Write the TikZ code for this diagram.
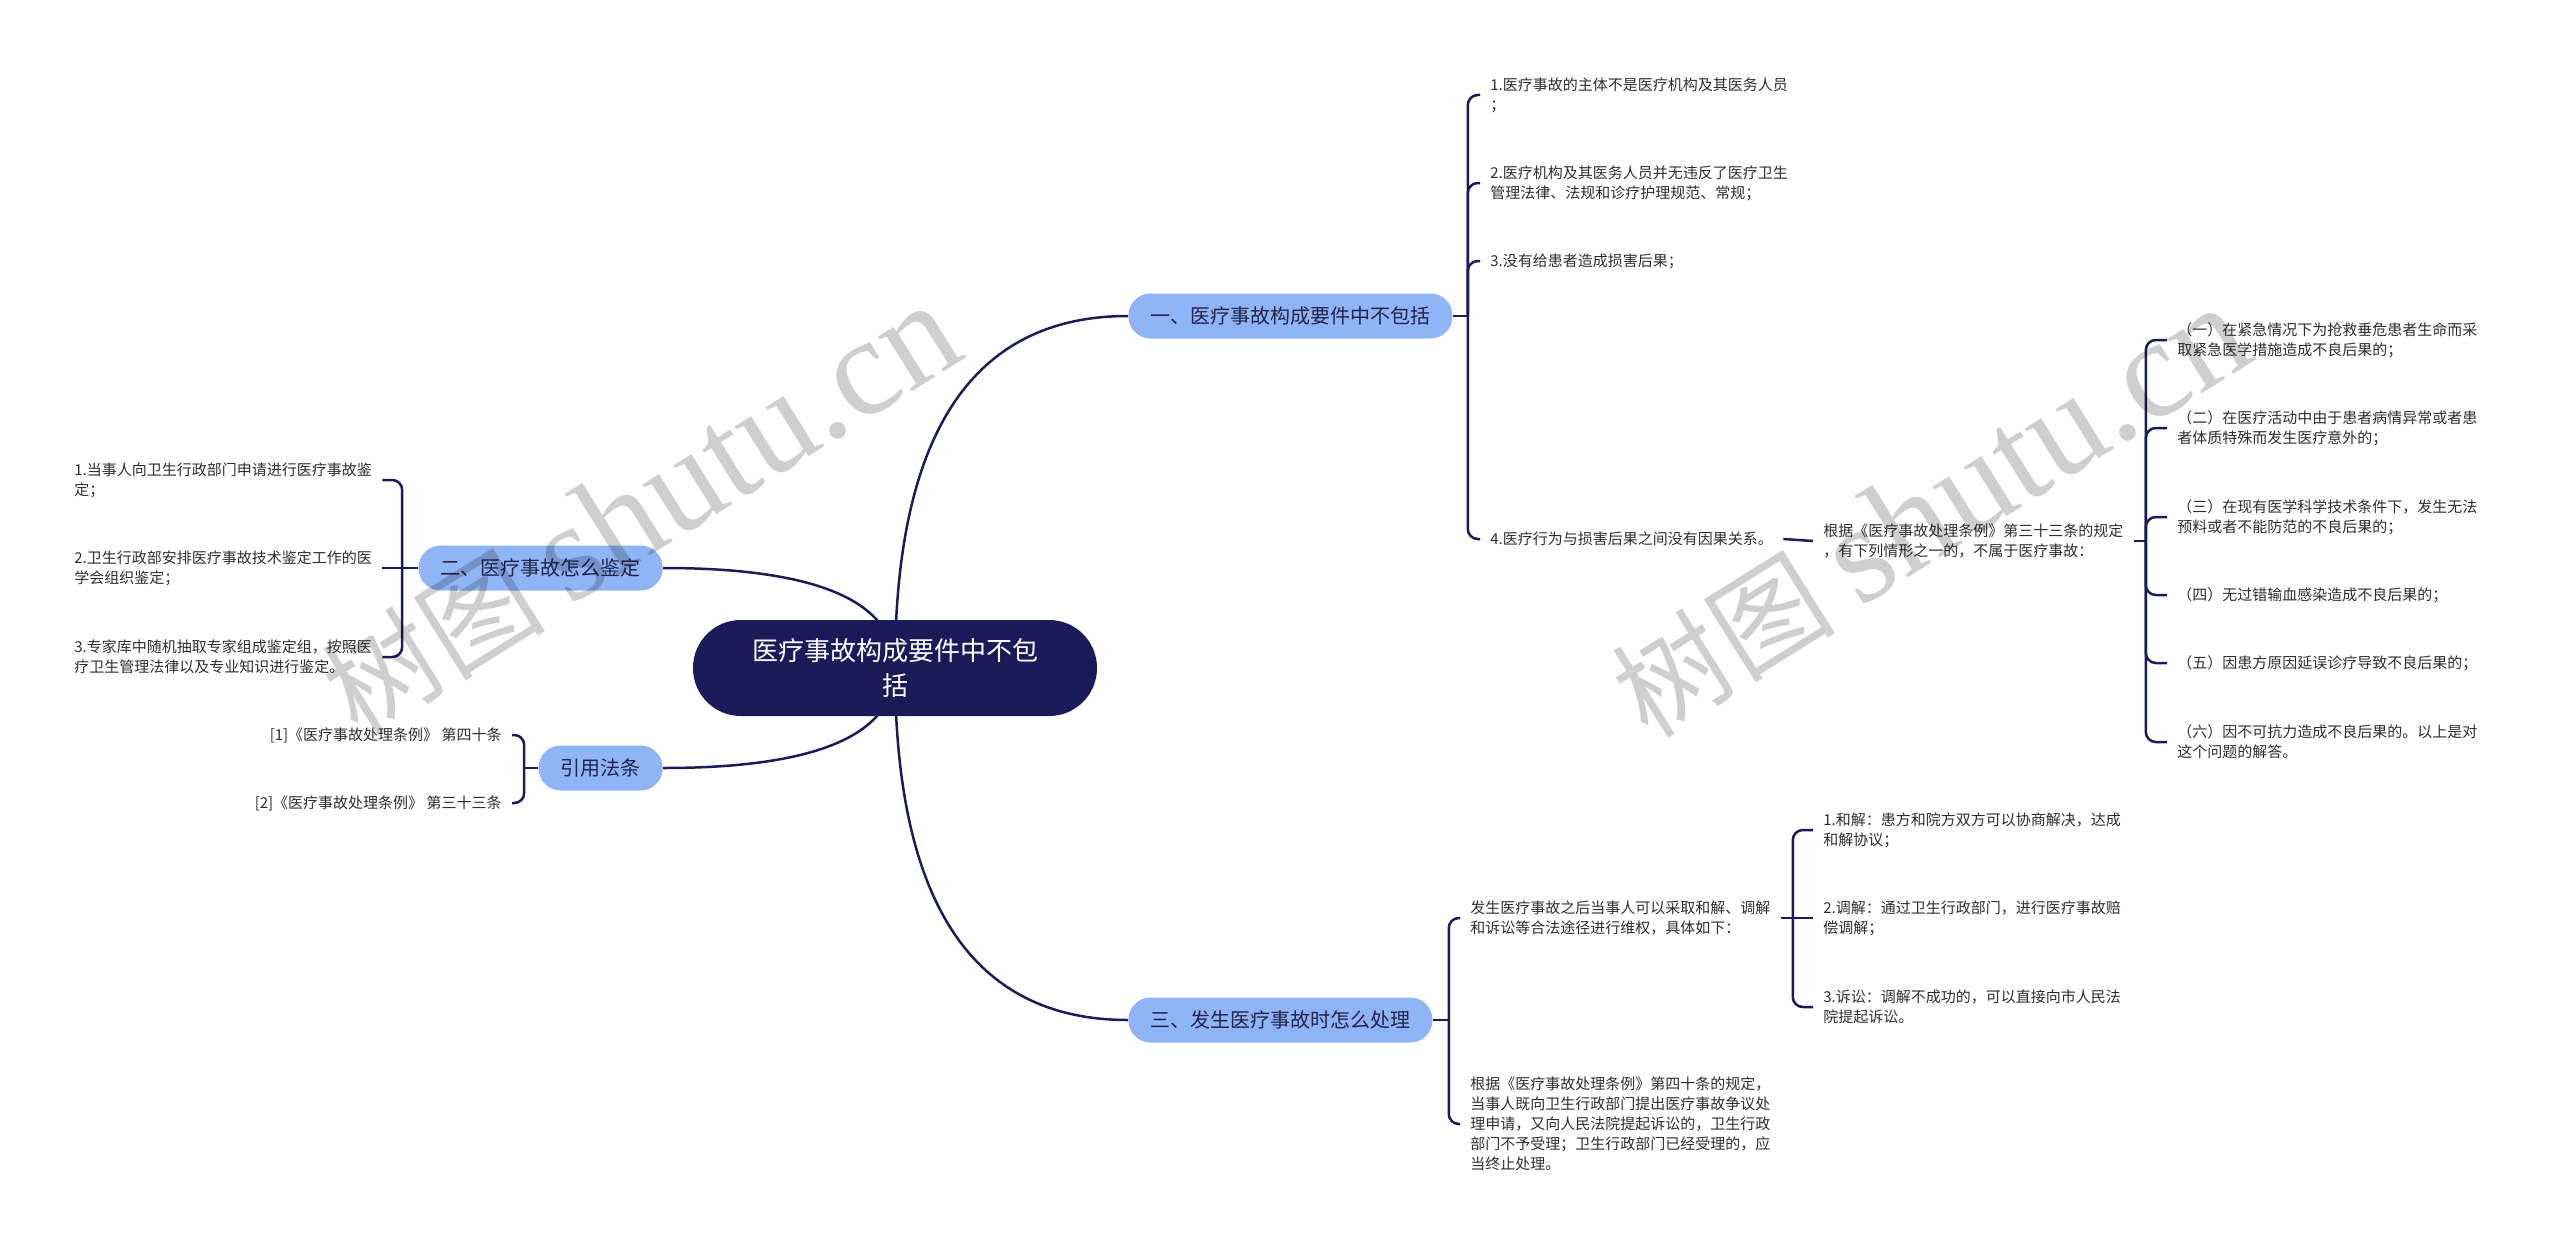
\documentclass[tikz,border=0pt]{standalone}
\usepackage{fontspec}
\setmainfont{Noto Sans CJK SC}
\newfontfamily\wmlatin{Liberation Serif}
\usetikzlibrary{calc}

\definecolor{navy}{RGB}{27,27,90}
\definecolor{pill}{RGB}{143,181,246}
\definecolor{pilltext}{RGB}{35,35,75}
\definecolor{leafgray}{RGB}{45,45,45}

\pgfdeclarelayer{background}
\pgfsetlayers{background,main}

\tikzset{
  rootbox/.style={fill=navy,text=white,rounded corners=23.9pt,inner sep=0pt,
    minimum width=202pt,minimum height=48pt,align=center,
    font=\fontsize{13pt}{17.5pt}\selectfont},
  topicbox/.style={fill=pill,text=pilltext,rounded corners=11pt,inner xsep=11pt,
    inner ysep=0pt,minimum height=22.5pt,font=\fontsize{10pt}{12pt}\selectfont},
  leafbox/.style={text=leafgray,align=left,inner xsep=5pt,inner ysep=2pt,
    font=\fontsize{7.5pt}{10pt}\selectfont},
  link/.style={draw=navy,line width=1.25pt},
  fork/.style={link,rounded corners=5pt},
  wmark/.style={text=black,text opacity=0.19,inner sep=0pt}
}

% quadratic curve from the centre of the root to a topic
\newcommand{\rootlink}[1]{%
  \draw[link] (root.center)
    .. controls ($(root.center)!0.667!(root.center|-#1)$)
    and ($(#1)!0.667!(root.center|-#1)$) .. (#1);}

\begin{document}
\begin{tikzpicture}[x=0.5pt,y=-0.5pt]
  \useasboundingbox (0,0) rectangle (2560,1247);

  % root and topics
  \node[rootbox] (root) at (895,668) {医疗事故构成要件中不包\\括};
  \node[topicbox,anchor=west] (rules) at (1128,316) {一、医疗事故构成要件中不包括};
  \node[topicbox,anchor=west] (handle) at (1128,1020) {三、发生医疗事故时怎么处理};
  \node[topicbox,anchor=east] (appraise) at (663,568) {二、医疗事故怎么鉴定};
  \node[topicbox,anchor=east] (cite) at (663,768) {引用法条};

  \begin{pgfonlayer}{background}
    \rootlink{rules.west}
    \rootlink{handle.west}
    \rootlink{appraise.east}
    \rootlink{cite.east}
  \end{pgfonlayer}

  % 一
  \node[leafbox,anchor=west] (r1) at (1480,95) {1.医疗事故的主体不是医疗机构及其医务人员\\；};
  \node[leafbox,anchor=west] (r2) at (1480,183) {2.医疗机构及其医务人员并无违反了医疗卫生\\管理法律、法规和诊疗护理规范、常规；};
  \node[leafbox,anchor=west] (r3) at (1480,261) {3.没有给患者造成损害后果；};
  \node[leafbox,anchor=west] (r4) at (1480,539) {4.医疗行为与损害后果之间没有因果关系。};
  \node[leafbox,anchor=west] (law) at (1813,541)
    {根据《医疗事故处理条例》第三十三条的规定\\，有下列情形之一的，不属于医疗事故：};
  \node[leafbox,anchor=west] (e1) at (2167,340) {（一）在紧急情况下为抢救垂危患者生命而采\\取紧急医学措施造成不良后果的；};
  \node[leafbox,anchor=west] (e2) at (2167,428) {（二）在医疗活动中由于患者病情异常或者患\\者体质特殊而发生医疗意外的；};
  \node[leafbox,anchor=west] (e3) at (2167,517) {（三）在现有医学科学技术条件下，发生无法\\预料或者不能防范的不良后果的；};
  \node[leafbox,anchor=west] (e4) at (2167,595) {（四）无过错输血感染造成不良后果的；};
  \node[leafbox,anchor=west] (e5) at (2167,663) {（五）因患方原因延误诊疗导致不良后果的；};
  \node[leafbox,anchor=west] (e6) at (2167,742) {（六）因不可抗力造成不良后果的。以上是对\\这个问题的解答。};

  \coordinate (jr) at ([xshift=7.5pt]rules.east);
  \coordinate (jl) at ([xshift=6pt]law.east);
  \draw[link] (rules.east) -- (jr);
  \draw[fork] (jr) |- (r1.west);
  \draw[fork] (jr) |- (r2.west);
  \draw[fork] (jr) |- (r3.west);
  \draw[fork] (jr) |- (r4.west);
  \draw[link] (r4.east) -- (law.west);
  \draw[link] (law.east) -- (jl);
  \draw[fork] (jl) |- (e1.west);
  \draw[fork] (jl) |- (e2.west);
  \draw[fork] (jl) |- (e3.west);
  \draw[fork] (jl) |- (e4.west);
  \draw[fork] (jl) |- (e5.west);
  \draw[fork] (jl) |- (e6.west);

  % 三
  \node[leafbox,anchor=west] (h1) at (1460,918) {发生医疗事故之后当事人可以采取和解、调解\\和诉讼等合法途径进行维权，具体如下：};
  \node[leafbox,anchor=west] (h2) at (1460,1124) {根据《医疗事故处理条例》第四十条的规定，\\当事人既向卫生行政部门提出医疗事故争议处\\理申请，又向人民法院提起诉讼的，卫生行政\\部门不予受理；卫生行政部门已经受理的，应\\当终止处理。};
  \node[leafbox,anchor=west] (w1) at (1813,830) {1.和解：患方和院方双方可以协商解决，达成\\和解协议；};
  \node[leafbox,anchor=west] (w2) at (1813,918) {2.调解：通过卫生行政部门，进行医疗事故赔\\偿调解；};
  \node[leafbox,anchor=west] (w3) at (1813,1007) {3.诉讼：调解不成功的，可以直接向市人民法\\院提起诉讼。};

  \coordinate (jh) at ([xshift=8pt]handle.east);
  \coordinate (jw) at ([xshift=6pt]h1.east);
  \draw[link] (handle.east) -- (jh);
  \draw[fork] (jh) |- (h1.west);
  \draw[fork] (jh) |- (h2.west);
  \draw[link] (h1.east) -- (w2.west);
  \draw[fork] (jw) |- (w1.west);
  \draw[fork] (jw) |- (w3.west);

  % 二
  \node[leafbox,anchor=west] (a1) at (64,480) {1.当事人向卫生行政部门申请进行医疗事故鉴\\定；};
  \node[leafbox,anchor=west] (a2) at (64,568) {2.卫生行政部安排医疗事故技术鉴定工作的医\\学会组织鉴定；};
  \node[leafbox,anchor=west] (a3) at (64,657) {3.专家库中随机抽取专家组成鉴定组，按照医\\疗卫生管理法律以及专业知识进行鉴定。};

  \coordinate (ja) at ([xshift=-8pt]appraise.west);
  \draw[link] (appraise.west) -- (a2.east);
  \draw[fork] (ja) |- (a1.east);
  \draw[fork] (ja) |- (a3.east);

  % 引用法条
  \node[leafbox,anchor=east] (c1) at (512,735) {[1]《医疗事故处理条例》 第四十条};
  \node[leafbox,anchor=east] (c2) at (512,803) {[2]《医疗事故处理条例》 第三十三条};

  \coordinate (jc) at ([xshift=-7pt]cite.west);
  \draw[link] (cite.west) -- (jc);
  \draw[fork] (jc) |- (c1.east);
  \draw[fork] (jc) |- (c2.east);

  % watermark
  \node[wmark,rotate=32] (wm1) at (640,510)
    {\fontsize{56pt}{56pt}\selectfont 树图 {\wmlatin\fontsize{70pt}{70pt}\selectfont shutu.cn}};
  \node[wmark,rotate=32] (wm2) at (1930,512)
    {\fontsize{56pt}{56pt}\selectfont 树图 {\wmlatin\fontsize{70pt}{70pt}\selectfont shutu.cn}};
\end{tikzpicture}
\end{document}
